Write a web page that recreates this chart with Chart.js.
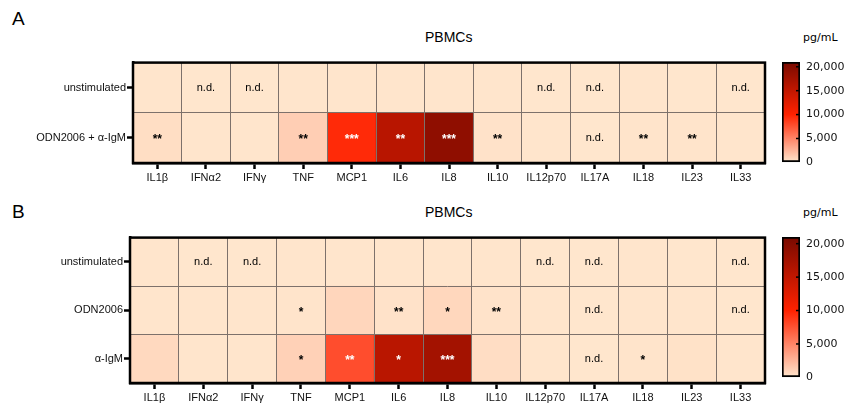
<!DOCTYPE html>
<html>
<head>
<meta charset="utf-8">
<script src="https://cdn.jsdelivr.net/npm/chart.js@4.4.0/dist/chart.umd.min.js"></script>
<style>
  body { margin: 0; background: #fff; width: 847px; height: 403px; position: relative; overflow: hidden; font-family: "Liberation Sans", Arial, sans-serif; }
  canvas { position: absolute; }
  .txt { position: absolute; color: #000; white-space: nowrap; }
</style>
</head>
<body>
<div class="txt" style="left:12px;top:8px;font-size:19px;">A</div>
<div class="txt" style="left:12px;top:201px;font-size:19px;">B</div>
<div class="txt" style="left:425px;top:29px;font-size:14px;">PBMCs</div>
<div class="txt" style="left:425px;top:204px;font-size:14px;">PBMCs</div>
<div class="txt" style="left:803px;top:31px;font-size:11px;font-family:'DejaVu Sans';">pg/mL</div>
<div class="txt" style="left:803px;top:206px;font-size:11px;font-family:'DejaVu Sans';">pg/mL</div>

<canvas id="heatA" width="775" height="130" style="left:0;top:55px;"></canvas>
<canvas id="barA" width="87" height="130" style="left:760px;top:45px;"></canvas>
<canvas id="heatB" width="775" height="173" style="left:0;top:230px;"></canvas>
<canvas id="barB" width="87" height="170" style="left:760px;top:220px;"></canvas>

<script>
const cytokines = ["IL1β", "IFNα2", "IFNγ", "TNF", "MCP1", "IL6", "IL8", "IL10", "IL12p70", "IL17A", "IL18", "IL23", "IL33"];

// panel A
const rowsA = ["unstimulated", "ODN2006 + α-IgM"];
const aUnstim = [60, 0, 0, 50, 40, 30, 50, 30, 0, 0, 30, 20, 0];
const aStim = [430, 40, 60, 1200, 9600, 15800, 19100, 200, 30, 0, 90, 120, 40];
const aUnstimMarks = ["", "n.d.", "n.d.", "", "", "", "", "", "n.d.", "n.d.", "", "", "n.d."];
const aStimMarks = ["**", "", "", "**", "***", "**", "***", "**", "", "n.d.", "**", "**", ""];

// panel B
const rowsB = ["unstimulated", "ODN2006", "α-IgM"];
const bUnstim = [60, 0, 0, 50, 40, 30, 50, 30, 0, 0, 30, 20, 0];
const bOdn = [60, 30, 40, 120, 820, 200, 770, 150, 30, 0, 40, 30, 0];
const bIgm = [670, 40, 40, 1080, 7800, 15700, 17500, 450, 40, 0, 100, 220, 60];
const bUnstimMarks = ["", "n.d.", "n.d.", "", "", "", "", "", "n.d.", "n.d.", "", "", "n.d."];
const bOdnMarks = ["", "", "", "*", "", "**", "*", "**", "", "n.d.", "", "", "n.d."];
const bIgmMarks = ["", "", "", "*", "**", "*", "***", "", "", "n.d.", "*", "", ""];

const scaleMax = 21000;
const colorTicks = [0, 5000, 10000, 15000, 20000];
const stops = [[0, [255, 230, 205]], [10000, [255, 34, 0]], [21000, [120, 10, 0]]];

Chart.defaults.font.family = "'Liberation Sans', Arial, sans-serif";
Chart.defaults.color = "#000";

function colorFor(v) {
  v = Math.max(0, Math.min(scaleMax, v));
  for (let i = 1; i < stops.length; i++) {
    if (v <= stops[i][0]) {
      const [v0, c0] = stops[i - 1], [v1, c1] = stops[i];
      const t = (v - v0) / (v1 - v0);
      const c = c0.map((x, k) => Math.round(x + (c1[k] - x) * t));
      return `rgb(${c[0]},${c[1]},${c[2]})`;
    }
  }
}

// frame round the plot area
const framePlugin = {
  id: "frame",
  afterDraw(chart) {
    const { ctx, chartArea: a } = chart;
    ctx.save();
    ctx.strokeStyle = "#000";
    ctx.lineWidth = 2.5;
    ctx.strokeRect(a.left, a.top, a.right - a.left, a.bottom - a.top);
    ctx.restore();
  }
};

// n.d. and significance stars in the cells
const marksPlugin = {
  id: "marks",
  afterDraw(chart) {
    const { ctx } = chart;
    chart.data.datasets.forEach((ds, di) => {
      const meta = chart.getDatasetMeta(di);
      meta.data.forEach((bar, i) => {
        const m = ds.marks[i];
        if (!m) return;
        const cy = (bar.y + bar.base) / 2;
        ctx.save();
        ctx.fillStyle = ds.values[i] > 7000 ? "#fff" : "#000";
        ctx.textAlign = "center";
        ctx.textBaseline = "middle";
        if (m === "n.d.") {
          ctx.font = "11px 'Liberation Sans', Arial";
          ctx.fillText(m, bar.x, cy);
        } else {
          ctx.font = "bold 12px 'Liberation Sans', Arial";
          ctx.fillText(m, bar.x, cy + 2);
        }
        ctx.restore();
      });
    });
  }
};

function heatmap(id, rows, values, marks, yWidth, pad) {
  const n = rows.length;
  // bottom row first so the stack goes upward
  const datasets = rows.map((r, i) => ({
    label: r,
    data: cytokines.map(() => 1),
    values: values[i],
    marks: marks[i],
    backgroundColor: values[i].map(colorFor),
    borderWidth: 0,
    barPercentage: 1,
    categoryPercentage: 1
  })).reverse();

  new Chart(document.getElementById(id), {
    type: "bar",
    data: { labels: cytokines, datasets },
    options: {
      responsive: false,
      animation: false,
      layout: { padding: pad },
      plugins: { legend: { display: false }, tooltip: { enabled: false } },
      scales: {
        x: {
          stacked: true,
          grid: { offset: false, drawOnChartArea: false, drawTicks: true, tickLength: 6, tickWidth: 2.5, tickColor: "#000" },
          border: { display: true, color: "#000", width: 2.5 },
          ticks: { font: { size: 11 }, color: "#111", padding: 2, maxRotation: 0, autoSkip: false },
          afterFit: s => { s.height = pad.xh; }
        },
        x2: {
          type: "category",
          labels: cytokines,
          position: "top",
          offset: true,
          grid: { offset: true, drawTicks: false, color: "#7d716b", lineWidth: 1, z: 1 },
          border: { display: false },
          ticks: { display: false },
          afterFit: s => { s.height = 0; }
        },
        y: {
          stacked: true,
          min: 0,
          max: n,
          afterBuildTicks: axis => { axis.ticks = rows.map((_, i) => ({ value: i + 0.5 })); },
          grid: { drawOnChartArea: false, drawTicks: true, tickLength: 6, tickWidth: 2.5, tickColor: "#000" },
          border: { display: true, color: "#000", width: 2.5 },
          ticks: {
            font: { size: 11 }, color: "#111", padding: 1,
            callback: v => rows[n - 1 - Math.floor(v)]
          },
          afterFit: s => { s.width = yWidth; }
        },
        y2: {
          type: "linear",
          position: "right",
          min: 0,
          max: n,
          ticks: { display: false, stepSize: 1 },
          grid: { drawTicks: false, color: "#7d716b", lineWidth: 1, z: 1 },
          border: { display: false },
          afterFit: s => { s.width = 0; }
        }
      }
    },
    plugins: [marksPlugin, framePlugin]
  });
}

function colorBar(id, pad) {
  new Chart(document.getElementById(id), {
    type: "bar",
    data: {
      labels: ["pg/mL"],
      datasets: [{
        data: [[0, scaleMax]],
        backgroundColor: ctx => {
          const chart = ctx.chart;
          if (!chart.chartArea) return colorFor(0);
          const y = chart.scales.y;
          const g = chart.ctx.createLinearGradient(0, y.getPixelForValue(0), 0, y.getPixelForValue(scaleMax));
          stops.forEach(([v]) => g.addColorStop(v / scaleMax, colorFor(v)));
          return g;
        },
        borderColor: "#000",
        borderWidth: 2,
        borderSkipped: false,
        barPercentage: 1,
        categoryPercentage: 1
      }]
    },
    options: {
      responsive: false,
      animation: false,
      layout: { padding: pad },
      plugins: { legend: { display: false }, tooltip: { enabled: false } },
      scales: {
        x: { display: false },
        y: {
          position: "right",
          min: 0,
          max: scaleMax,
          afterBuildTicks: axis => { axis.ticks = colorTicks.map(v => ({ value: v })); },
          grid: { drawOnChartArea: false, drawTicks: false },
          border: { display: false },
          ticks: {
            font: { family: "'DejaVu Sans'", size: 11 }, color: "#111", padding: 6,
            callback: v => v.toLocaleString("en-US")
          },
          afterFit: s => { s.width = 47; }
        }
      }
    },
    plugins: [{
      id: "innerTicks",
      afterDatasetsDraw(chart) {
        const { ctx, chartArea: a, scales: { y } } = chart;
        ctx.save();
        ctx.strokeStyle = "#000";
        ctx.lineWidth = 1.5;
        colorTicks.slice(1).forEach(v => {
          const py = y.getPixelForValue(v);
          ctx.beginPath();
          ctx.moveTo(a.right - 4, py);
          ctx.lineTo(a.right, py);
          ctx.stroke();
        });
        ctx.restore();
      }
    }]
  });
}

heatmap("heatA", rowsA, [aUnstim, aStim], [aUnstimMarks, aStimMarks], 133, { top: 7, right: 10, xh: 22 });
heatmap("heatB", rowsB, [bUnstim, bOdn, bIgm], [bUnstimMarks, bOdnMarks, bIgmMarks], 130, { top: 7, right: 10, xh: 20 });
colorBar("barA", { left: 22, top: 17, bottom: 12 });
colorBar("barB", { left: 22, top: 17, bottom: 7 });
</script>
</body>
</html>
